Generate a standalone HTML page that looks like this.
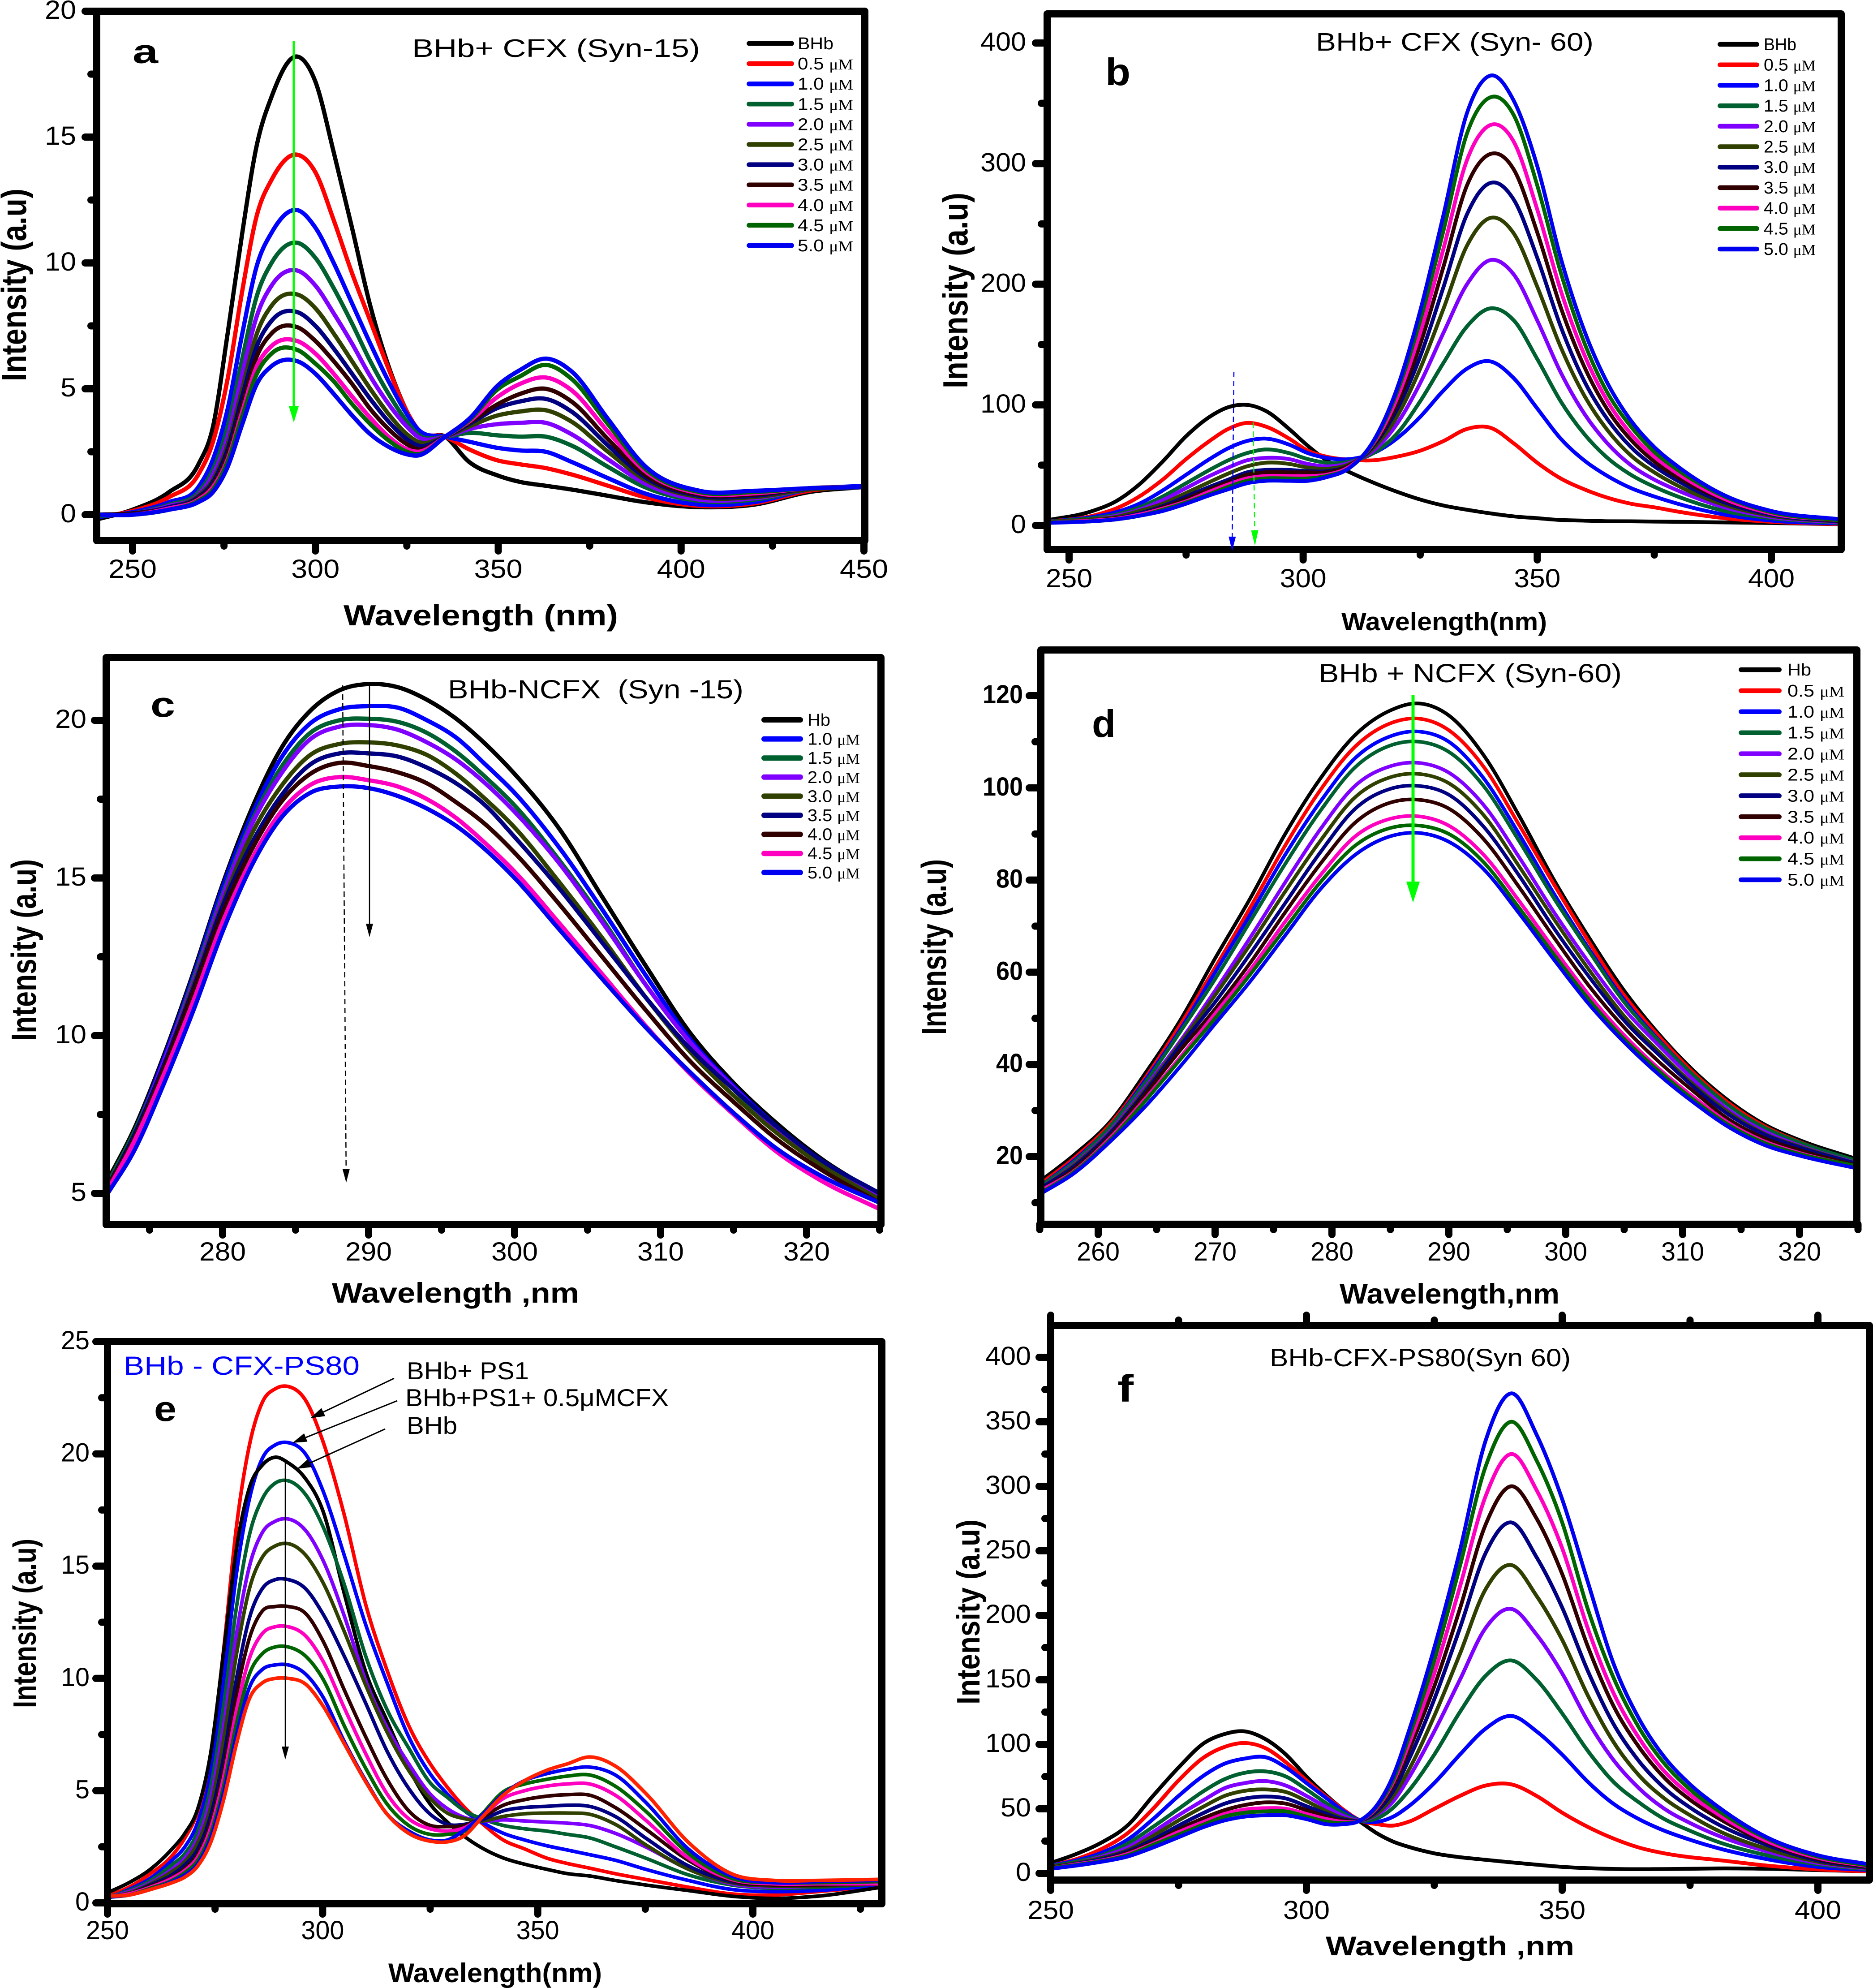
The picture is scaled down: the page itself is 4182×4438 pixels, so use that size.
<!DOCTYPE html>
<html lang="en">
<head>
<meta charset="utf-8">
<title>BHb fluorescence spectra panels</title>
<style>
html,body{margin:0;padding:0;background:#fff;}
svg{display:block;font-family:"Liberation Sans",Arial,sans-serif;}
</style>
</head>
<body>
<svg id="chart" xmlns="http://www.w3.org/2000/svg" width="4182" height="4438" viewBox="0 0 4182 4438"></svg>
<script>
// ---------- shared ----------
const colors11 = ['#000000','#ff0000','#0000ff','#006030','#8000ff','#304000','#000080','#300000','#ff00c0','#006400','#0000f0'];
const colorsC = ['#000000','#0000ff','#006030','#8000ff','#304000','#000080','#300000','#ff00c0','#0000f0'];
const colorsE = ['#ff0000','#0000ff','#000000','#006030','#8000ff','#304000','#000080','#300000','#ff00c0','#006400','#0000f0','#ff2200'];
const legend11 = ['BHb','0.5 μM','1.0 μM','1.5 μM','2.0 μM','2.5 μM','3.0 μM','3.5 μM','4.0 μM','4.5 μM','5.0 μM'];
const legendC = ['Hb','1.0 μM','1.5 μM','2.0 μM','3.0 μM','3.5 μM','4.0 μM','4.5 μM','5.0 μM'];
const legendD = ['Hb','0.5 μM','1.0 μM','1.5 μM','2.0 μM','2.5 μM','3.0 μM','3.5 μM','4.0 μM','4.5 μM','5.0 μM'];

// ---------- panel a ----------
const aWavelength = [240,250,260,268,272,276,280,284,288,295,300,305,310,315,320,325,328,335.5,342,350,356,363,370,380,390,405,420,435,450];
const aBHb = [-0.2,0.2,0.9,2.0,3.5,7.2,11.2,14.7,16.6,18.2,17.2,14.4,11.4,8.3,5.9,4.1,3.3,3.1,2.1,1.55,1.3,1.15,1.0,0.75,0.5,0.3,0.4,0.9,1.1];
const aC05 = [-0.1,0.15,0.7,1.6,2.9,5.4,8.9,11.9,13.3,14.3,13.6,11.7,9.6,7.7,5.8,4.1,3.4,3.1,2.6,2.15,2.0,1.85,1.6,1.15,0.7,0.35,0.45,0.95,1.15];
const aC10 = [-0.1,0.1,0.5,1.1,2.2,4.2,7.2,9.9,11.2,12.1,11.4,10,8.4,6.8,5.3,4,3.4,3.1,2.9,2.65,2.55,2.5,2.1,1.45,0.85,0.4,0.5,1,1.15];
const aC15 = [-0.05,0.05,0.4,0.9,1.8,3.5,6.2,8.7,10,10.8,10.2,9,7.6,6.1,4.8,3.7,3.2,3.1,3.25,3.15,3.1,3.1,2.75,1.9,1.1,0.55,0.6,1,1.1];
const aC20 = [0,0.05,0.35,0.8,1.6,3.1,5.6,7.9,9.1,9.7,9.1,8,6.8,5.5,4.4,3.5,3.1,3.1,3.4,3.6,3.65,3.65,3.2,2.2,1.25,0.6,0.65,1,1.1];
const aC25 = [0,0.05,0.3,0.75,1.4,2.8,5,7.2,8.3,8.75,8.2,7.2,6.1,5,4,3.2,2.9,3.1,3.5,3.95,4.1,4.15,3.7,2.5,1.4,0.7,0.7,1,1.1];
const aC30 = [0,0.05,0.3,0.7,1.3,2.6,4.7,6.7,7.7,8.05,7.5,6.6,5.6,4.6,3.7,3,2.75,3.1,3.6,4.25,4.5,4.6,4.1,2.75,1.5,0.75,0.75,1.05,1.1];
const aC35 = [0,0.05,0.25,0.65,1.2,2.4,4.4,6.3,7.2,7.45,6.9,6.1,5.2,4.2,3.4,2.8,2.6,3.1,3.65,4.4,4.8,5,4.5,3,1.6,0.8,0.8,1.05,1.1];
const aC40 = [0,0,0.25,0.6,1.1,2.2,4.1,5.9,6.7,6.9,6.4,5.6,4.7,3.85,3.1,2.6,2.5,3.1,3.7,4.7,5.2,5.45,4.95,3.3,1.75,0.85,0.85,1.05,1.1];
const aC45 = [0,0,0.2,0.55,1,2.1,3.9,5.6,6.4,6.55,6,5.3,4.4,3.6,2.95,2.5,2.4,3.1,3.75,5,5.5,5.95,5.4,3.6,1.85,0.9,0.9,1.05,1.1];
const aC50 = [0,0,0.2,0.5,0.9,1.9,3.6,5.2,5.9,6.1,5.6,4.8,3.95,3.2,2.7,2.4,2.35,3.1,3.8,5.15,5.75,6.2,5.7,3.8,1.95,0.95,0.95,1.05,1.1];
const aSeries = [aBHb,aC05,aC10,aC15,aC20,aC25,aC30,aC35,aC40,aC45,aC50];
const aXTicks = [250,300,350,400,450];
const aXMinor = [275,325,375,425];
const aYTicks = [0,5,10,15,20];
const aYMinor = [2.5,7.5,12.5,17.5];

// ---------- panel b ----------
const bWavelength = [245,255,260,265,270,275,280,284,288,292,297,301,305,310,315,320,325,330,335,340,345,350,355,360,365,370,375,380,390,400,415];
const bBHb = [4,12,20,34,53,74,90,98,100,95,80,66,54,44,35.5,28,21.5,16.5,13,10,7.5,6,4.5,4,3.5,3.4,3.2,3,2.5,2,1];
const bC05 = [3,8,14,24,38,55,70,80,85,82,72,62,57,54.5,54,57,62,70,80,81,68,52,39,30,23,18,15,11.5,6,3,1];
const bC10 = [3,7,11,18,29,42,55,64,70,72,67,60,56,55,60,72,90,112,130,136,122,97,72,54,41,31,24,18,9,4,1.5];
const bC15 = [3,6,9,15,24,35,46,54,60,63,60,55,52,53,60,76,103,135,165,180,170,138,103,76,56,42,32,24,12,6,2];
const bC20 = [3,5,8,13,21,31,41,48,54,56,55,51,49,52,62,84,118,160,200,220,208,170,127,93,68,50,38,29,15,7,2.5];
const bC25 = [3,5,7,12,18,27,36,43,49,52,51,48,47,51,64,90,130,180,232,255,242,198,148,108,79,58,44,33,17,8,3];
const bC30 = [2.5,4,6,10,16,24,32,38,44,46,46,45,45,50,66,96,140,198,258,284,270,222,165,120,88,65,49,37,19,9,3];
const bC35 = [2.5,4,6,9,15,22,30,36,42,44,44,44,44,50,67,100,150,215,282,308,295,243,181,132,96,71,53,40,21,10,3.5];
const bC40 = [2.5,4,5.5,9,14,20,28,34,39,41,41,41,42,49,68,105,160,230,303,332,318,262,195,142,103,76,57,43,22,10,4];
const bC45 = [2.5,3.5,5,8,13,19,26,32,37,39,39,39,41,48,69,110,170,245,325,355,340,282,210,152,110,82,61,46,24,11,4];
const bC50 = [2,3.5,5,8,12,18,25,30,35,37,37,37,40,48,70,113,178,258,342,373,352,298,222,162,118,87,65,49,25,12,5];
const bSeries = [bBHb,bC05,bC10,bC15,bC20,bC25,bC30,bC35,bC40,bC45,bC50];
const bXTicks = [250,300,350,400];
const bXMinor = [275,325,375];
const bYTicks = [0,100,200,300,400];
const bYMinor = [50,150,250,350];

// ---------- panel c ----------
const cWavelength = [272,274,276,278,280,282,284,286,288,290,292,294,296,298,300,303,306,309,312,315,318,321,325];
const cHb = [5.3,7.1,9.4,12,14.8,17.2,19.1,20.3,20.95,21.15,21.05,20.65,20.05,19.25,18.3,16.6,14.4,12.2,10.1,8.5,7.2,6.1,4.95];
const cC10 = [5.2,7,9.3,11.9,14.7,17,18.8,19.9,20.35,20.45,20.4,20,19.45,18.6,17.7,16,14,11.9,9.9,8.4,7.1,6,4.9];
const cC15 = [5.2,7,9.2,11.8,14.5,16.8,18.5,19.6,20,20.05,19.95,19.6,19,18.2,17.3,15.6,13.7,11.6,9.8,8.3,7,5.95,4.9];
const cC20 = [5.1,6.9,9.2,11.7,14.4,16.7,18.3,19.4,19.8,19.85,19.7,19.3,18.75,18,17.1,15.5,13.6,11.6,9.8,8.35,7.05,6,4.9];
const cC30 = [5.1,6.9,9.1,11.6,14.2,16.4,17.9,18.9,19.25,19.3,19.2,18.9,18.3,17.5,16.6,14.9,13.1,11.2,9.5,8.1,6.9,5.9,4.8];
const cC35 = [5.1,6.9,9.1,11.5,14.1,16.1,17.6,18.6,18.95,18.95,18.85,18.5,18,17.3,16.3,14.7,12.95,11.2,9.6,8.3,7.1,6.05,5];
const cC40 = [5.1,6.8,9,11.4,13.9,15.9,17.4,18.3,18.65,18.55,18.35,18,17.4,16.7,15.8,14.2,12.5,10.8,9.2,7.9,6.7,5.75,4.7];
const cC45 = [5,6.7,8.8,11.1,13.6,15.6,17.1,17.95,18.2,18.1,17.9,17.5,16.9,16.1,15.2,13.6,11.95,10.3,8.8,7.5,6.3,5.4,4.5];
const cC50 = [4.9,6.4,8.5,10.8,13.3,15.4,16.9,17.7,17.9,17.85,17.6,17.2,16.65,15.9,15,13.4,11.8,10.25,8.85,7.55,6.4,5.55,4.7];
const cSeries = [cHb,cC10,cC15,cC20,cC30,cC35,cC40,cC45,cC50];
const cXTicks = [280,290,300,310,320];
const cXMinor = [275,285,295,305,315,325];
const cYTicks = [5,10,15,20];
const cYMinor = [7.5,12.5,17.5];

// ---------- panel d ----------
const dWavelength = [255,258,261,264,267,270,273,276,279,282,285,287.5,290,293,296,299,302,305,308,311,314,317,320,325];
const dHb = [14.6,20.5,27.5,38,49.5,63,76,90,102,111.5,116.8,118.3,115.7,107,94,80,67.5,56,46.5,38.5,32,27,23.6,19.4];
const dC05 = [14,19.8,27,37,48.5,61,74,87.5,99.5,109,114,115,112.5,104.5,92,79,66.5,55,46,38,31.5,26.6,23.2,18.9];
const dC10 = [13.5,19.3,26.5,36.5,47.5,60,72.5,85.5,97,106.5,111.2,112.2,110,102,90,77,65,54,45.2,37.5,31,26.2,23,18.8];
const dC15 = [13.5,19,26.5,36,47,58.5,71,83.5,95,104.5,109.2,110,107.8,100.3,88.5,76,64.5,53.5,45,37.5,31,26.3,23.1,19];
const dC20 = [13,18.5,25.5,35,45,56,67.5,79.5,91,100.5,104.7,105.4,103.3,96.2,85,73,62,52,44,36.5,30,25.5,22.4,18.5];
const dC25 = [13,18.3,25.2,34.5,44.5,55,66,77.5,88.5,98,102.3,103,101,94,83,71.5,60.5,50.5,42.7,35.5,29.5,25,22.2,18.4];
const dC30 = [13,18,25,34,44,53.5,64,75,86,95.5,99.8,100.4,98.5,91.5,81,69.5,59,49.5,42,35,29,24.8,22,18.4];
const dC35 = [12.5,17.5,24.5,33.5,43,52,62,73,83.5,92.5,96.8,97.4,95.5,88.8,78.5,67.5,57,48,40.5,34,28,24,21.4,18];
const dC40 = [12.5,17,24,32.5,41.5,51,60.5,71,81,89.5,93.3,93.8,91.8,85.4,75.5,65,55,46.3,39,32.8,27.2,23.3,20.8,17.8];
const dC45 = [12,16.8,23.6,32,41,50,59.5,69.5,79.5,87.5,91.3,91.8,90,83.8,74,63.8,54,45.5,38.5,32.2,26.8,23,20.6,17.9];
const dC50 = [11.8,16.5,23.2,30.8,39.5,48.8,58,68,78,85.5,89.5,90.2,88.3,82.3,72.8,62.7,53,44.8,37.7,31.6,26.3,22.5,20.2,17.4];
const dSeries = [dHb,dC05,dC10,dC15,dC20,dC25,dC30,dC35,dC40,dC45,dC50];
const dXTicks = [260,270,280,290,300,310,320];
const dXMinor = [255,265,275,285,295,305,315,325];
const dYTicks = [20,40,60,80,100,120];
const dYMinor = [10,30,50,70,90,110];

// ---------- panel e ----------
const eWavelength = [250,255,260,265,268,271,274,277,280,283,286,289,292,296,300,305,310,315,320,325,329,333,337,342,347,352,357,362,368,375,385,395,405,415,430];
const ePS1 = [0.3,0.7,1.3,2.1,2.9,4.1,6.6,11.3,16.8,20.4,22.3,22.9,23,22.4,20.6,17.3,13.3,10.35,7.9,6.2,5.15,4.25,3.55,2.8,2.4,2,1.75,1.55,1.3,1.05,0.7,0.4,0.35,0.5,0.75];
const ePS1C05 = [0.2,0.6,1.1,1.9,2.5,3.6,5.8,9.9,14.7,18,19.8,20.4,20.5,20,18.4,15.5,12.4,9.8,7.4,5.75,4.85,4.1,3.6,3.1,2.8,2.55,2.35,2.15,1.9,1.5,1,0.6,0.5,0.55,0.8];
const eBHb = [0.45,0.9,1.5,2.4,3.1,4.2,6.7,11.2,15.8,18.5,19.5,19.85,19.6,18.9,17.5,13.8,10.3,8.1,6,4.4,3.6,2.95,2.45,2,1.72,1.5,1.3,1.2,1,0.8,0.55,0.3,0.2,0.3,0.7];
const eS4 = [0.25,0.55,1,1.7,2.2,3.2,5.2,8.8,13.2,16.4,18,18.7,18.8,18.2,16.8,14.2,11,8.6,6.9,5.35,4.7,4.1,3.75,3.45,3.3,3.2,3.05,2.9,2.5,2,1.25,0.8,0.65,0.7,0.85];
const eS5 = [0.25,0.5,0.9,1.5,2,2.9,4.7,7.9,12,15,16.5,17,17.1,16.6,15.3,12.8,9.9,7.8,6.2,4.85,4.2,3.8,3.65,3.7,3.65,3.6,3.55,3.45,3.1,2.5,1.5,0.85,0.7,0.75,0.85];
const eS6 = [0.25,0.45,0.85,1.4,1.85,2.7,4.3,7.3,11.1,14,15.4,15.9,16,15.5,14.3,12.1,9.7,7.6,5.9,4.65,4,3.75,3.65,3.85,3.97,4,4,3.95,3.5,2.6,1.5,0.9,0.75,0.75,0.85];
const eS7 = [0.25,0.4,0.8,1.25,1.7,2.4,3.9,6.5,10,12.7,14,14.4,14.4,14,12.9,11,8.9,6.75,5.1,3.95,3.5,3.5,3.7,4.1,4.25,4.3,4.35,4.3,3.85,2.9,1.65,0.95,0.8,0.8,0.85];
const eS8 = [0.25,0.4,0.75,1.15,1.55,2.2,3.6,6,9.3,11.8,13,13.2,13.2,12.9,11.7,9.5,7.4,5.5,4.1,3.45,3.4,3.45,3.8,4.35,4.6,4.75,4.82,4.8,4.25,3.3,1.9,1,0.8,0.8,0.85];
const eS9 = [0.25,0.4,0.7,1.1,1.45,2.05,3.35,5.6,8.6,10.9,12,12.3,12.3,11.9,10.8,8.7,6.65,4.85,3.75,3.3,3.2,3.35,3.85,4.65,5,5.2,5.3,5.3,4.8,3.7,2,1.05,0.85,0.85,0.85];
const eS10 = [0.25,0.35,0.65,1,1.35,1.9,3.1,5.2,8,10.2,11.1,11.4,11.4,11,10,7.9,6,4.4,3.45,3.05,3.05,3.2,3.95,4.95,5.3,5.5,5.65,5.7,5.2,4.1,2.2,1.1,0.9,0.9,0.95];
const eS11 = [0.25,0.35,0.6,0.95,1.25,1.75,2.9,4.9,7.5,9.6,10.4,10.6,10.6,10.2,9.2,7.2,5.45,3.95,3.2,2.8,2.8,3.25,3.9,4.85,5.45,5.75,5.95,6.05,5.7,4.5,2.4,1.2,0.9,0.95,1];
const eS12 = [0.3,0.35,0.6,0.9,1.15,1.65,2.7,4.6,7.1,9.1,9.8,10,10,9.75,8.8,7.1,5.4,3.95,3.1,2.75,2.72,3,3.8,4.8,5.45,5.9,6.2,6.5,6.1,4.9,2.7,1.3,1,1,1.05];
const eSeries = [ePS1,ePS1C05,eBHb,eS4,eS5,eS6,eS7,eS8,eS9,eS10,eS11,eS12];
const eXTicks = [250,300,350,400];
const eXMinor = [275,325,375,425];
const eYTicks = [0,5,10,15,20,25];
const eYMinor = [2.5,7.5,12.5,17.5,22.5];

// ---------- panel f ----------
const fWavelength = [250,255,260,265,270,275,280,284,288,292,296,300,304,307,310.5,314,317,320,325,330,335,340,345,350,355,360,365,370,375,380,390,400,410];
const fBHb = [8,15,24,37,60,82,101,108,110,104,92,75,60,50,40,30.5,24.5,20.5,15.5,12.5,10.5,8.5,6.7,5,4,3.4,3.2,3.3,3.5,3.8,3.5,2.5,1.5];
const fS2 = [6,11,19,31,50,72,90,98,101,97,86,72,59,50,41,38,37,40,50,60,68,69,60,47,36,27,20,15.5,12.5,10.5,6,3,1.5];
const fS3 = [6,10,16,26,42,60,76,85,89,90,82,70,58,49,41,40,44,52,70,92,112,122,110,92,71,54,42,33,26,20,11,5,2.5];
const fS4 = [5.5,9,14,23,36,50,64,73,78,79,75,65,54,47,41,43,51,64,92,125,153,165,150,124,95,71,55,42,33,25,14,7,3];
const fS5 = [5,8,13,20,32,45,57,66,70,71.5,68,60,51,45,41,46,56,74,110,150,190,205,185,155,118,88,66,50,39,30,17,8,3.5];
const fS6 = [5,8,12,18,29,41,52,60,64,65,63,56,48,43,41,47,60,80,122,170,220,239,215,181,138,102,76,58,45,34,19,9,4];
const fS7 = [4.5,7.5,11,17,26,37,47,54,58,59.5,58,52,46,42,41,49,64,88,135,190,248,272,245,206,157,116,87,66,51,39,22,10,4.5];
const fS8 = [4.5,7,10,16,24,34,43,49,53,55,54,49,44,41,41,51,68,95,145,205,270,300,275,232,176,130,98,74,57,44,24,11,5];
const fS9 = [4,7,10,15,23,32,40,46,49.5,50.5,50,46,42,40,41,52,71,100,155,222,292,325,297,252,190,140,105,79,61,47,25,12,5.5];
const fS10 = [4,6.5,9.5,14,22,30,38,44,47,48,48,44,40,39,41,53,73,105,165,238,315,350,320,272,205,152,113,85,65,50,27,13,6];
const fS11 = [3.5,6,9,13,20,28,36,41,44,45,45,42,38,38,41,54,76,110,175,250,335,372,340,290,226,163,120,90,69,53,28,14,7];
const fSeries = [fBHb,fS2,fS3,fS4,fS5,fS6,fS7,fS8,fS9,fS10,fS11];
const fXTicks = [250,300,350,400];
const fXMinor = [275,325,375];
const fYTicks = [0,50,100,150,200,250,300,350,400];
const fYMinor = [25,75,125,175,225,275,325,375];

// ---------- helpers ----------
const svg = document.getElementById('chart');
const NS = 'http://www.w3.org/2000/svg';

function make(tag, name, attrs, parent) {
  const el = document.createElementNS(NS, tag);
  
  
  for (const k in attrs) el.setAttribute(k, attrs[k]);
  (parent || svg).appendChild(el);
  return el;
}

function label(name, str, x, y, size, len, opts, parent) {
  const o = opts || {};
  const a = {x: x, y: y, 'font-size': size, textLength: len, lengthAdjust: 'spacingAndGlyphs', fill: o.fill || '#000'};
  if (o.bold) a['font-weight'] = 'bold';
  if (o.anchor) a['text-anchor'] = o.anchor;
  if (o.rotate) a.transform = 'rotate(-90 ' + x + ' ' + y + ')';
  const el = make('text', name, a, parent);
  el.textContent = str;
  return el;
}

function curvePath(xs, ys) {
  const n = xs.length;
  const m = [];
  for (let i = 0; i < n; i++) {
    if (i === 0) { m.push((ys[1] - ys[0]) / (xs[1] - xs[0])); continue; }
    if (i === n - 1) { m.push((ys[i] - ys[i - 1]) / (xs[i] - xs[i - 1])); continue; }
    const h0 = xs[i] - xs[i - 1], h1 = xs[i + 1] - xs[i];
    const d0 = (ys[i] - ys[i - 1]) / h0, d1 = (ys[i + 1] - ys[i]) / h1;
    m.push((h1 * d0 + h0 * d1) / (h0 + h1));
  }
  let d = 'M' + xs[0].toFixed(1) + ' ' + ys[0].toFixed(1);
  for (let i = 0; i < n - 1; i++) {
    const h = (xs[i + 1] - xs[i]) / 3;
    d += 'C' + (xs[i] + h).toFixed(1) + ' ' + (ys[i] + m[i] * h).toFixed(1) + ' ' +
         (xs[i + 1] - h).toFixed(1) + ' ' + (ys[i + 1] - m[i + 1] * h).toFixed(1) + ' ' +
         xs[i + 1].toFixed(1) + ' ' + ys[i + 1].toFixed(1);
  }
  return d;
}

function arrow(name, x1, y1, x2, y2, color, width, headLen, headHalf, dash) {
  const g = make('g', name, {});
  const dx = x2 - x1, dy = y2 - y1, L = Math.hypot(dx, dy), ux = dx / L, uy = dy / L;
  const bx = x2 - ux * headLen, by = y2 - uy * headLen;
  const lineAttrs = {x1: x1, y1: y1, x2: bx, y2: by, stroke: color, 'stroke-width': width};
  if (dash) lineAttrs['stroke-dasharray'] = dash;
  make('line', name + '-shaft', lineAttrs, g);
  make('polygon', name + '-head', {
    points: x2 + ',' + y2 + ' ' + (bx - uy * headHalf) + ',' + (by + ux * headHalf) + ' ' + (bx + uy * headHalf) + ',' + (by - ux * headHalf),
    fill: color
  }, g);
}

function legendBlock(id, entries, cols, lx1, lx2, y0, dy, tx, lenMicro, lenShort, lw) {
  const g = make('g', id + '-legend', {});
  entries.forEach(function (entry, i) {
    const y = y0 + dy * i;
    make('line', 'legend-line-' + entry.replace(/[^0-9A-Za-z]/g, ''), {
      x1: lx1 + lw / 2, x2: lx2 - lw / 2, y1: y, y2: y, stroke: cols[i], 'stroke-width': lw, 'stroke-linecap': 'round'
    }, g);
    const parts = entry.split(' ');
    const t = make('text', 'legend-label-' + entry.replace(/[^0-9A-Za-z]/g, ''), {
      x: tx, y: y + 13, 'font-size': 38, textLength: parts.length > 1 ? lenMicro : lenShort,
      lengthAdjust: 'spacingAndGlyphs', fill: '#000'
    }, g);
    t.appendChild(document.createTextNode(parts[0] + (parts.length > 1 ? ' ' : '')));
    if (parts.length > 1) {
      const s = make('tspan', 'legend-unit', {'font-size': 34, 'font-family': '"Liberation Serif",serif'}, t);
      s.textContent = parts[1];
    }
  });
}

function panel(p) {
  const g = make('g', 'panel-' + p.id, {});
  const xAt = function (v) { return p.xCal[1] + (v - p.xCal[0]) * (p.xCal[3] - p.xCal[1]) / (p.xCal[2] - p.xCal[0]); };
  const yAt = function (v) { return p.yCal[1] + (v - p.yCal[0]) * (p.yCal[3] - p.yCal[1]) / (p.yCal[2] - p.yCal[0]); };
  const l = p.frame[0], t = p.frame[1], r = p.frame[2], b = p.frame[3];

  const clip = make('clipPath', 'clip-' + p.id, {id: 'clip-' + p.id}, g);
  make('rect', 'clip-rect', {x: l, y: t, width: r - l, height: b - t}, clip);

  const curves = make('g', 'series-' + p.id, {'clip-path': 'url(#clip-' + p.id + ')'}, g);
  const xs = p.wavelength.map(xAt);
  p.series.forEach(function (vals, i) {
    make('path', 'curve-' + p.id + '-' + i, {
      d: curvePath(xs, vals.map(yAt)), fill: 'none', stroke: p.colors[i],
      'stroke-width': p.lw, 'stroke-linejoin': 'round', 'stroke-linecap': 'round'
    }, curves);
  });

  make('rect', 'plot-frame-' + p.id, {x: l, y: t, width: r - l, height: b - t, fill: 'none', stroke: '#000', 'stroke-width': 16, 'stroke-linejoin': 'round'}, g);

  function xTick(v, len, name) {
    make('line', name, {x1: xAt(v), x2: xAt(v), y1: b, y2: b + len, stroke: '#000', 'stroke-width': 16, 'stroke-linecap': 'round'}, g);
    if (p.topTicks) make('line', name + '-top', {x1: xAt(v), x2: xAt(v), y1: t, y2: t - len, stroke: '#000', 'stroke-width': 16, 'stroke-linecap': 'round'}, g);
  }
  function yTick(v, len, name) {
    make('line', name, {x1: l, x2: l - len, y1: yAt(v), y2: yAt(v), stroke: '#000', 'stroke-width': 16, 'stroke-linecap': 'round'}, g);
  }
  p.xTicks.forEach(function (v) {
    xTick(v, 23, 'x-tick-' + v);
    label('x-tick-label-' + v, String(v), xAt(v), p.xLabelY, 58, p.xLabelW, {anchor: 'middle'}, g);
  });
  p.xMinor.forEach(function (v) { xTick(v, 12, 'x-minor-tick-' + v); });
  p.yTicks.forEach(function (v) {
    const s = String(v);
    yTick(v, 26, 'y-tick-' + v);
    label('y-tick-label-' + v, s, p.yLabelR, yAt(v) + 17, 58, p.yDigitW * s.length, {anchor: 'end', bold: p.yBold}, g);
  });
  p.yMinor.forEach(function (v) { yTick(v, 13, 'y-minor-tick-' + v); });

  label('x-axis-title', p.xTitle[0], p.xTitle[1], p.xTitle[2], p.xTitle[3], p.xTitle[4], {bold: true}, g);
  label('y-axis-title', p.yTitle[0], p.yTitle[1], p.yTitle[2], p.yTitle[3], p.yTitle[4], {bold: true, rotate: true}, g);
}

// ---------- draw panels ----------
panel({id: 'a', frame: [216,25,1931,1207], xCal: [250,296,450,1929], yCal: [0,1149,20,25],
  wavelength: aWavelength, series: aSeries, colors: colors11, lw: 9.5,
  xTicks: aXTicks, xMinor: aXMinor, yTicks: aYTicks, yMinor: aYMinor,
  xLabelY: 1290, xLabelW: 108, yLabelR: 170, yDigitW: 35,
  xTitle: ['Wavelength (nm)',767,1396,65,613], yTitle: ['Intensity (a.u)',58,851,78,430]});
label('panel-letter-a', 'a', 296, 141, 75, 57, {bold: true});
label('panel-title-a', 'BHb+ CFX (Syn-15)', 920, 127, 57, 643);
legendBlock('a', legend11, colors11, 1667, 1773, 97, 45.1, 1781, 124, 80, 10.5);
arrow('quench-arrow-a', 656, 92, 656, 943, '#00ff00', 5, 36, 11);

panel({id: 'b', frame: [2338,31,4111,1227], xCal: [250,2387,400,3955], yCal: [0,1173,400,96],
  wavelength: bWavelength, series: bSeries, colors: colors11, lw: 8.5,
  xTicks: bXTicks, xMinor: bXMinor, yTicks: bYTicks, yMinor: bYMinor,
  xLabelY: 1311, xLabelW: 104, yLabelR: 2291, yDigitW: 34,
  xTitle: ['Wavelength(nm)',2995,1407,57,459], yTitle: ['Intensity (a.u)',2160,867,78,437]});
label('panel-letter-b', 'b', 2468, 190, 85, 56, {bold: true});
label('panel-title-b', 'BHb+ CFX (Syn- 60)', 2938, 113, 57, 620);
legendBlock('b', legend11, colors11, 3835, 3928, 99, 45.7, 3938, 116, 73, 10.5);
arrow('quench-arrow-b-blue', 2755, 830, 2751, 1230, '#0000ff', 2.5, 32, 8, '12 8');
arrow('quench-arrow-b-green', 2798, 943, 2802, 1218, '#00ff00', 2.5, 34, 8, '12 8');

panel({id: 'c', frame: [237,1468,1967,2734], xCal: [280,497,320,1801], yCal: [5,2664,20,1608],
  wavelength: cWavelength, series: cSeries, colors: colorsC, lw: 9.5,
  xTicks: cXTicks, xMinor: cXMinor, yTicks: cYTicks, yMinor: cYMinor,
  xLabelY: 2814, xLabelW: 104, yLabelR: 193, yDigitW: 35,
  xTitle: ['Wavelength ,nm',741,2908,63,552], yTitle: ['Intensity (a.u)',80,2324,78,406]});
label('panel-letter-c', 'c', 336, 1600, 79, 55, {bold: true});
label('panel-title-c', 'BHb-NCFX\u00a0\u00a0(Syn -15)', 1000, 1559, 58, 660);
legendBlock('c', legendC, colorsC, 1700, 1793, 1607, 42.6, 1803, 117, 51, 12);
arrow('quench-arrow-c-solid', 825, 1530, 825, 2092, '#000000', 2.5, 30, 8);
arrow('quench-arrow-c-dashed', 765, 1530, 773, 2640, '#000000', 2.5, 30, 8, '12 8');

panel({id: 'd', frame: [2324,1451,4146,2733], xCal: [260,2452,320,4018], yCal: [20,2582,120,1553],
  wavelength: dWavelength, series: dSeries, colors: colors11, lw: 8,
  xTicks: dXTicks, xMinor: dXMinor, yTicks: dYTicks, yMinor: dYMinor,
  xLabelY: 2814, xLabelW: 96, yLabelR: 2284, yDigitW: 30, yBold: true,
  xTitle: ['Wavelength,nm',2991,2910,63,491], yTitle: ['Intensity (a.u)',2112,2310,78,392]});
label('panel-letter-d', 'd', 2438, 1645, 85, 53, {bold: true});
label('panel-title-d', 'BHb + NCFX (Syn-60)', 2944, 1523, 58, 677);
legendBlock('d', legendD, colors11, 3882, 3978, 1495, 46.9, 3991, 127, 53, 10.5);
arrow('quench-arrow-d', 3155, 1552, 3155, 2015, '#00ff00', 7, 47, 15);

panel({id: 'e', frame: [240,2995,1969,4250], xCal: [250,240,400,1681], yCal: [0,4248,25,2995],
  wavelength: eWavelength, series: eSeries, colors: colorsE, lw: 8,
  xTicks: eXTicks, xMinor: eXMinor, yTicks: eYTicks, yMinor: eYMinor,
  xLabelY: 4329, xLabelW: 96, yLabelR: 200, yDigitW: 32,
  xTitle: ['Wavelength(nm)',867,4425,60,477], yTitle: ['Intensity (a.u)',80,3813,72,378]});
label('panel-letter-e', 'e', 344, 3172, 79, 50, {bold: true});
label('panel-title-e', 'BHb - CFX-PS80', 276, 3069, 58, 527, {fill: '#0000ff'});
label('annotation-bhb-ps1', 'BHb+ PS1', 908, 3079, 55, 273);
label('annotation-bhb-ps1-cfx', 'BHb+PS1+ 0.5μMCFX', 905, 3139, 55, 588);
label('annotation-bhb', 'BHb', 908, 3201, 55, 113);
arrow('annotation-arrow-ps1', 880, 3077, 693, 3166, '#000000', 3, 32, 10);
arrow('annotation-arrow-ps1-cfx', 887, 3127, 653, 3221, '#000000', 3, 32, 10);
arrow('annotation-arrow-bhb', 860, 3190, 663, 3279, '#000000', 3, 32, 10);
arrow('quench-arrow-e', 637, 3262, 637, 3928, '#000000', 2.5, 29, 8);

panel({id: 'f', frame: [2346,2959,4174,4197], xCal: [250,2346,400,4059], yCal: [0,4182,400,3030],
  wavelength: fWavelength, series: fSeries, colors: colors11, lw: 8.5, topTicks: true,
  xTicks: fXTicks, xMinor: fXMinor, yTicks: fYTicks, yMinor: fYMinor,
  xLabelY: 4284, xLabelW: 104, yLabelR: 2302, yDigitW: 34,
  xTitle: ['Wavelength ,nm',2960,4365,60,555], yTitle: ['Intensity (a.u)',2187,3805,72,413]});
label('panel-letter-f', 'f', 2495, 3129, 85, 36, {bold: true});
label('panel-title-f', 'BHb-CFX-PS80(Syn 60)', 2835, 3050, 56, 672);
</script>
</body>
</html>
